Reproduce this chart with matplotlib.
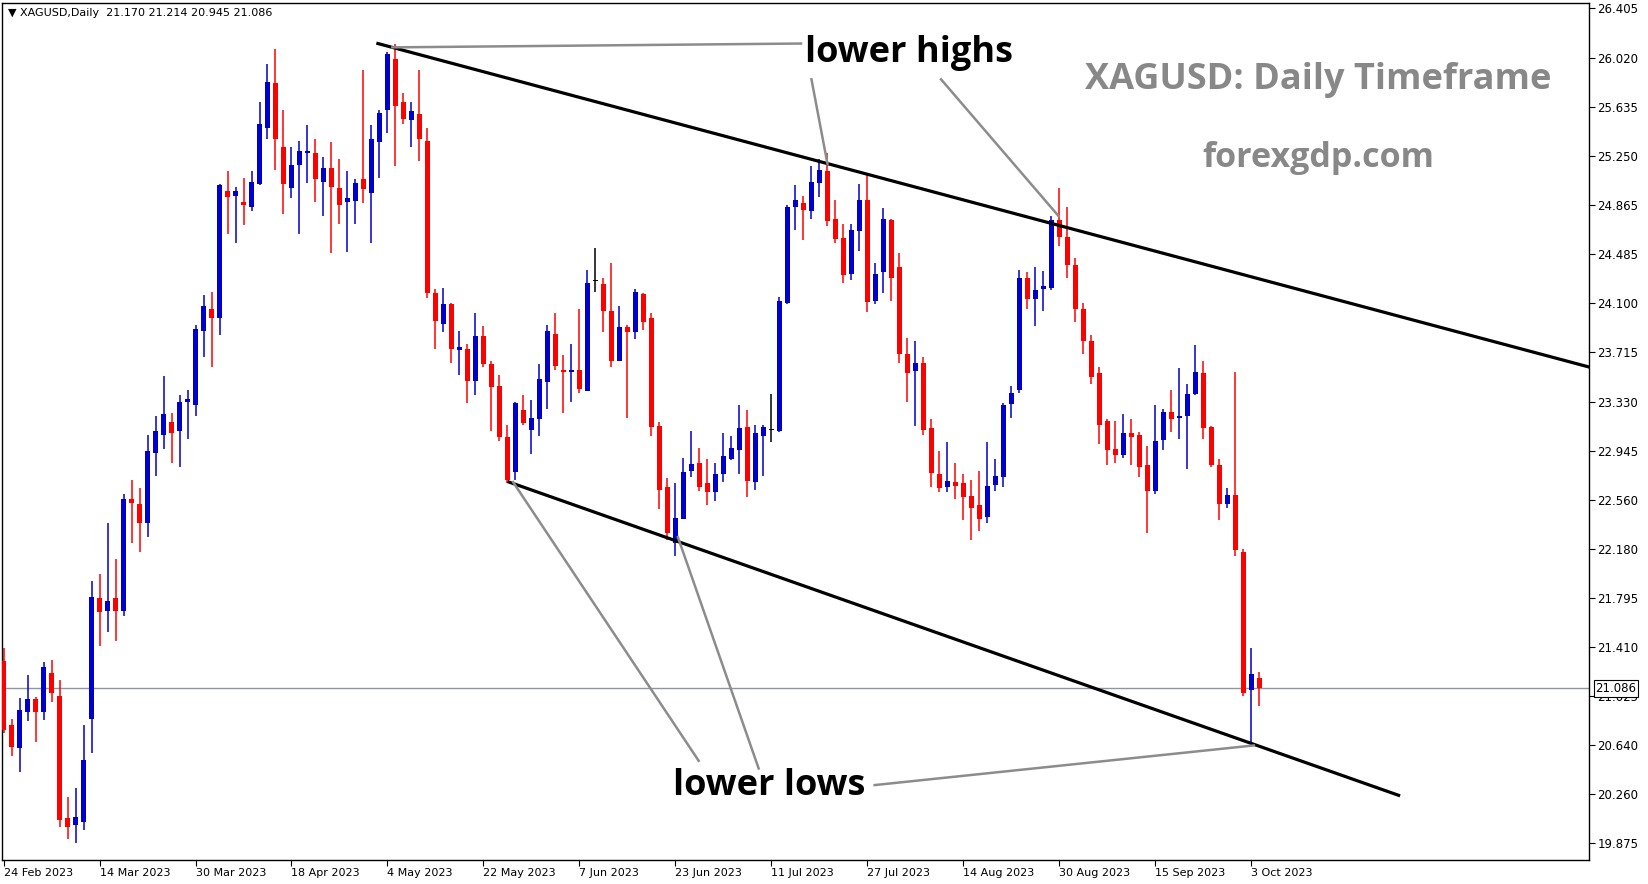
import matplotlib
matplotlib.use("Agg")
import matplotlib.pyplot as plt
import numpy as np

# daily candles, 24 Feb 2023 .. 4 Oct 2023 (one entry per trading day)
opens = [21.30, 20.80, 20.62, 20.90, 21.00, 20.90, 21.21, 21.03, 20.07, 20.02,
         20.04, 20.85, 21.79, 21.69, 21.79, 21.69, 22.57, 22.53, 22.38, 22.93,
         23.07, 23.17, 23.10, 23.33, 23.30, 23.88, 24.05, 23.98, 24.98, 24.94,
         24.89, 24.85, 25.03, 25.47, 25.82, 25.32, 25.00, 25.18, 25.27, 25.27,
         25.05, 25.16, 25.00, 24.89, 24.90, 25.07, 24.96, 25.36, 25.61, 26.01,
         25.67, 25.53, 25.58, 25.37, 24.18, 23.94, 24.09, 23.73, 23.74, 23.49,
         23.84, 23.62, 23.45, 23.05, 22.78, 23.26, 23.11, 23.19, 23.48, 23.86,
         23.58, 23.56, 23.58, 23.41, 24.27, 24.25, 24.04, 23.65, 23.91, 23.87,
         24.17, 23.98, 23.14, 22.66, 22.22, 22.41, 22.79, 22.85, 22.69, 22.62,
         22.76, 22.88, 22.95, 23.13, 22.70, 23.06, 23.11, 23.10, 24.10, 24.85,
         24.88, 24.82, 25.04, 25.13, 24.76, 24.61, 24.33, 24.66, 24.91, 24.12,
         24.34, 24.75, 24.38, 23.70, 23.57, 23.63, 23.12, 22.76, 22.66, 22.70,
         22.69, 22.59, 22.52, 22.43, 22.68, 22.74, 23.31, 23.42, 24.30, 24.13,
         24.21, 24.22, 24.75, 24.62, 24.40, 24.05, 23.80, 23.55, 23.18, 22.96,
         22.91, 23.08, 23.07, 22.83, 22.63, 23.03, 23.25, 23.20, 23.22, 23.39,
         23.55, 23.13, 22.83, 22.53, 22.60, 22.15, 21.07, 21.170]
highs = [21.40, 20.85, 21.01, 21.19, 21.02, 21.29, 21.31, 21.15, 20.24, 20.31,
         20.80, 21.93, 21.98, 22.38, 22.10, 22.61, 22.72, 22.65, 23.07, 23.22,
         23.53, 23.24, 23.38, 23.42, 23.93, 24.16, 24.19, 25.03, 25.13, 25.01,
         25.08, 25.13, 25.67, 25.97, 26.09, 25.61, 25.32, 25.37, 25.49, 25.38,
         25.24, 25.36, 25.23, 25.13, 25.07, 25.92, 25.49, 25.61, 26.06, 26.13,
         25.74, 25.67, 25.92, 25.47, 24.21, 24.22, 24.10, 23.88, 23.78, 24.02,
         23.92, 23.65, 23.54, 23.15, 23.33, 23.38, 23.34, 23.62, 23.93, 24.02,
         23.69, 23.78, 24.05, 24.36, 24.53, 24.30, 24.41, 24.08, 23.93, 24.21,
         24.18, 24.02, 23.17, 22.73, 22.69, 22.89, 23.10, 22.97, 22.88, 22.85,
         23.08, 23.06, 23.30, 23.26, 23.15, 23.15, 23.39, 24.15, 24.87, 25.02,
         24.94, 25.17, 25.23, 25.27, 24.91, 24.72, 24.72, 25.03, 25.11, 24.41,
         24.84, 24.76, 24.49, 23.83, 23.80, 23.68, 23.19, 22.94, 23.01, 22.85,
         22.76, 22.72, 22.79, 23.01, 22.88, 23.32, 23.45, 24.36, 24.34, 24.38,
         24.35, 24.78, 25.00, 24.85, 24.45, 24.10, 23.85, 23.60, 23.19, 23.18,
         23.23, 23.19, 23.09, 22.98, 23.30, 23.27, 23.42, 23.59, 23.47, 23.77,
         23.65, 23.14, 22.88, 22.65, 23.56, 22.18, 21.40, 21.214]
lows = [20.74, 20.56, 20.43, 20.83, 20.67, 20.84, 20.98, 20.00, 19.91, 19.88,
        19.98, 20.58, 21.42, 21.53, 21.46, 21.65, 22.22, 22.15, 22.27, 22.75,
        22.96, 22.85, 22.82, 23.04, 23.22, 23.68, 23.60, 23.85, 24.64, 24.57,
        24.71, 24.82, 25.02, 25.38, 25.14, 24.80, 24.92, 24.64, 25.04, 24.89,
        24.78, 24.49, 24.72, 24.50, 24.72, 24.88, 24.57, 25.08, 25.43, 25.17,
        25.50, 25.32, 25.21, 24.14, 23.74, 23.87, 23.63, 23.54, 23.32, 23.38,
        23.60, 23.10, 23.02, 22.69, 22.72, 23.15, 22.92, 23.06, 23.27, 23.58,
        23.24, 23.33, 23.40, 23.41, 24.19, 23.87, 23.60, 23.65, 23.20, 23.82,
        23.89, 23.06, 22.49, 22.25, 22.12, 22.41, 22.74, 22.63, 22.52, 22.55,
        22.70, 22.87, 22.76, 22.58, 22.64, 22.75, 23.01, 23.09, 24.09, 24.67,
        24.59, 24.76, 24.93, 24.70, 24.57, 24.26, 24.28, 24.51, 24.03, 24.09,
        24.18, 24.12, 23.63, 23.33, 23.14, 23.07, 22.66, 22.62, 22.62, 22.57,
        22.40, 22.25, 22.32, 22.38, 22.63, 22.66, 23.20, 23.40, 24.05, 23.92,
        24.04, 24.20, 24.55, 24.30, 23.95, 23.70, 23.47, 23.00, 22.83, 22.85,
        22.89, 22.83, 22.74, 22.30, 22.61, 22.95, 23.09, 23.04, 22.80, 23.38,
        23.04, 22.82, 22.40, 22.50, 22.12, 21.03, 20.66, 20.945]
closes = [20.76, 20.63, 20.92, 21.00, 20.90, 21.25, 21.05, 20.06, 20.00, 20.08,
          20.53, 21.80, 21.68, 21.77, 21.69, 22.57, 22.54, 22.38, 22.94, 23.10,
          23.23, 23.08, 23.33, 23.35, 23.90, 24.08, 23.98, 25.02, 24.93, 24.98,
          24.87, 25.05, 25.50, 25.83, 25.38, 25.03, 25.18, 25.29, 25.29, 25.07,
          25.16, 25.01, 24.87, 24.92, 25.04, 24.99, 25.38, 25.59, 26.05, 25.64,
          25.54, 25.60, 25.38, 24.18, 23.96, 24.09, 23.74, 23.76, 23.49, 23.84,
          23.62, 23.44, 23.05, 22.72, 23.32, 23.16, 23.20, 23.51, 23.88, 23.61,
          23.56, 23.58, 23.43, 24.26, 24.27, 24.04, 23.65, 23.91, 23.87, 24.19,
          23.95, 23.13, 22.64, 22.30, 22.42, 22.78, 22.84, 22.66, 22.62, 22.76,
          22.90, 22.97, 23.12, 22.71, 23.08, 23.13, 23.11, 24.12, 24.85, 24.91,
          24.83, 25.05, 25.14, 24.74, 24.60, 24.32, 24.67, 24.91, 24.11, 24.33,
          24.76, 24.30, 23.70, 23.55, 23.63, 23.11, 22.77, 22.65, 22.71, 22.67,
          22.58, 22.50, 22.41, 22.67, 22.75, 23.30, 23.40, 24.30, 24.13, 24.20,
          24.23, 24.75, 24.62, 24.40, 24.05, 23.80, 23.52, 23.15, 22.95, 22.91,
          23.08, 23.05, 22.82, 22.63, 23.02, 23.25, 23.19, 23.22, 23.39, 23.56,
          23.12, 22.83, 22.53, 22.60, 22.17, 21.05, 21.20, 21.086]

date_labels = ["24 Feb 2023", "14 Mar 2023", "30 Mar 2023", "18 Apr 2023", "4 May 2023",
               "22 May 2023", "7 Jun 2023", "23 Jun 2023", "11 Jul 2023", "27 Jul 2023",
               "14 Aug 2023", "30 Aug 2023", "15 Sep 2023", "3 Oct 2023"]
date_idx = list(range(0, 157, 12))
price_ticks = [26.405, 26.020, 25.635, 25.250, 24.865, 24.485, 24.100, 23.715, 23.330,
               22.945, 22.560, 22.180, 21.795, 21.410, 21.025, 20.640, 20.260, 19.875]
last_price = 21.086

# channel lines (bar index, price)
upper_line = [(46.8, 26.13), (198.2, 23.60)]
lower_line = [(63.2, 22.70), (174.4, 20.25)]
# pointer lines for the labels
high_pointers = [[(48.6, 26.10), (99.7, 26.13)],
                 [(101.0, 25.85), (103.0, 25.19)],
                 [(117.2, 25.85), (131.9, 24.78)]]
low_pointers = [[(86.9, 20.52), (63.7, 22.70)],
                [(94.4, 20.46), (84.3, 22.27)],
                [(108.9, 20.33), (156.3, 20.64)]]

BLUE = "#0000CC"
RED = "#FF0000"

fig = plt.figure(figsize=(16.49, 8.84), dpi=100)
ax = fig.add_axes([2 / 1649, 24 / 884, 1587 / 1649, 857 / 884])

o = np.array(opens); h = np.array(highs); l = np.array(lows); c = np.array(closes)
x = np.arange(len(o))
cols = np.where(c > o, BLUE, np.where(c < o, RED, "black"))

ax.vlines(x, l, h, colors=cols, linewidth=1.1, zorder=2)
body = np.abs(c - o)
ax.bar(x, np.maximum(body, 0.008), bottom=np.minimum(o, c), width=0.64,
       color=cols, linewidth=0, zorder=3)

# current price line
ax.axhline(last_price, color="#8a96a3", linewidth=1.0, zorder=1)

# channel
for line in (upper_line, lower_line):
    ax.plot([p[0] for p in line], [p[1] for p in line], color="black", linewidth=2.3, zorder=4)
for seg in high_pointers + low_pointers:
    ax.plot([p[0] for p in seg], [p[1] for p in seg], color="#8c8c8c", linewidth=1.8, zorder=4)

ax.text(113.2, 26.055, "lower highs", fontsize=26, fontweight="bold", family="Open Sans",
        ha="center", va="center", color="black", zorder=5)
ax.text(95.7, 20.32, "lower lows", fontsize=26, fontweight="bold", family="Open Sans",
        ha="center", va="center", color="black", zorder=5)
ax.text(164.4, 25.845, "XAGUSD: Daily Timeframe", fontsize=26, fontweight="bold",
        family="Open Sans", ha="center", va="center", color="#888888", zorder=5)
ax.text(164.4, 25.235, "forexgdp.com", fontsize=24.5, fontweight="bold",
        family="Open Sans", ha="center", va="center", color="#888888", zorder=5)

ax.set_xlim(-0.19, 198.2)
ax.set_ylim(19.744, 26.447)

ax.yaxis.tick_right()
ax.set_yticks(price_ticks)
ax.set_yticklabels([f"{v:.3f}" for v in price_ticks])
ax.set_xticks(date_idx)
ax.set_xticklabels(date_labels, ha="left")
ax.tick_params(axis="both", labelsize=8.5, direction="out", length=4, width=0.8, pad=2,
               colors="black")
ax.tick_params(axis="x", pad=2, labelsize=8)
for sp in ax.spines.values():
    sp.set_linewidth(1.0)
    sp.set_color("black")

# current price tag, covers part of the 21.025 label like in the terminal
ax.text(1.004, last_price, f"{last_price:.3f}", transform=ax.get_yaxis_transform(),
        fontsize=8.5, ha="left", va="center", color="black",
        bbox=dict(boxstyle="square,pad=0.15", fc="white", ec="black", lw=0.8), zorder=6)

fig.text(8 / 1649, 1 - 13 / 884, "\u25bc XAGUSD,Daily  21.170 21.214 20.945 21.086",
         fontsize=8, ha="left", va="center", color="black")

fig.savefig("out.png", dpi=100, facecolor="white")
